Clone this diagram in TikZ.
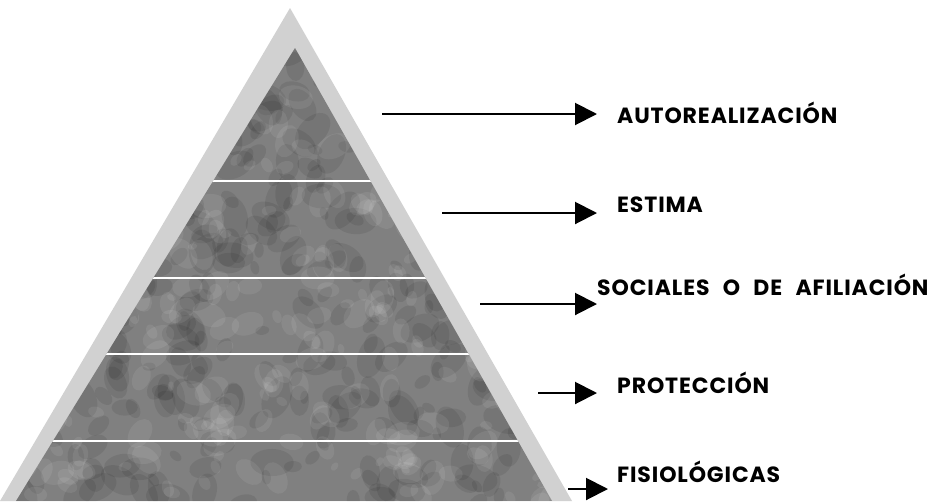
\documentclass[tikz,border=0pt]{standalone}
\usepackage{fontspec}
\setmainfont{Poppins}[LetterSpace=4, WordSpace=2.4]
\usetikzlibrary{arrows.meta}
\tikzset{
  lbl/.style={anchor=west, inner sep=0pt, font=\fontsize{22}{22}\selectfont\bfseries, text=black},
  arr/.style={line width=2pt, -{Triangle[length=22pt, width=22pt]}},
  band/.style={white, line width=2pt},
}
\begin{document}
\begin{tikzpicture}[x=1pt,y=-1pt]
\useasboundingbox (0,0) rectangle (944,501);
% halo
\fill[black!18] (0,501) -- (290,8) -- (572,501) -- cycle;
% dark pyramid
\begin{scope}
\clip (16,501) -- (295,48) -- (552,501) -- cycle;
\fill[black!50] (0,0) rectangle (600,501);
\pgfmathsetseed{11}
\foreach \i in {1,...,420}{
  \pgfmathsetmacro\xx{16+rnd*540}
  \pgfmathsetmacro\yy{40+rnd*465}
  \pgfmathsetmacro\rr{4+rnd*10}
  \pgfmathsetmacro\ra{rnd*180}
  \fill[black,opacity=0.08,rotate around={\ra:(\xx,\yy)}] (\xx,\yy) ellipse[x radius=\rr*1.6pt, y radius=\rr pt];
}
\foreach \i in {1,...,320}{
  \pgfmathsetmacro\xx{16+rnd*540}
  \pgfmathsetmacro\yy{40+rnd*465}
  \pgfmathsetmacro\rr{3+rnd*9}
  \pgfmathsetmacro\ra{rnd*180}
  \fill[white,opacity=0.08,rotate around={\ra:(\xx,\yy)}] (\xx,\yy) ellipse[x radius=\rr*1.5pt, y radius=\rr pt];
}
\draw[band] (0,181) -- (600,181);
\draw[band] (0,278) -- (600,278);
\draw[band] (0,354) -- (600,354);
\draw[band] (0,441) -- (600,441);
\end{scope}
% labels
\node[lbl] (t1) at (617,113) {AUTOREALIZACIÓN};
\node[lbl] (t2) at (617,205) {ESTIMA};
\node[lbl] (t3) at (597,285) {SOCIALES O DE AFILIACIÓN};
\node[lbl] (t4) at (617,383) {PROTECCIÓN};
\node[lbl] (t5) at (617,472) {FISIOLÓGICAS};
% arrows
\coordinate (s1) at (382,114); \coordinate (e1) at (597,114);
\coordinate (s2) at (442,213); \coordinate (e2) at (597,213);
\coordinate (s3) at (480,304); \coordinate (e3) at (597,304);
\coordinate (s4) at (538,393); \coordinate (e4) at (597,393);
\coordinate (s5) at (568,489); \coordinate (e5) at (608,489);
\draw[arr] (s1) -- (e1);
\draw[arr] (s2) -- (e2);
\draw[arr] (s3) -- (e3);
\draw[arr] (s4) -- (e4);
\draw[arr] (s5) -- (e5);
\end{tikzpicture}
\end{document}
